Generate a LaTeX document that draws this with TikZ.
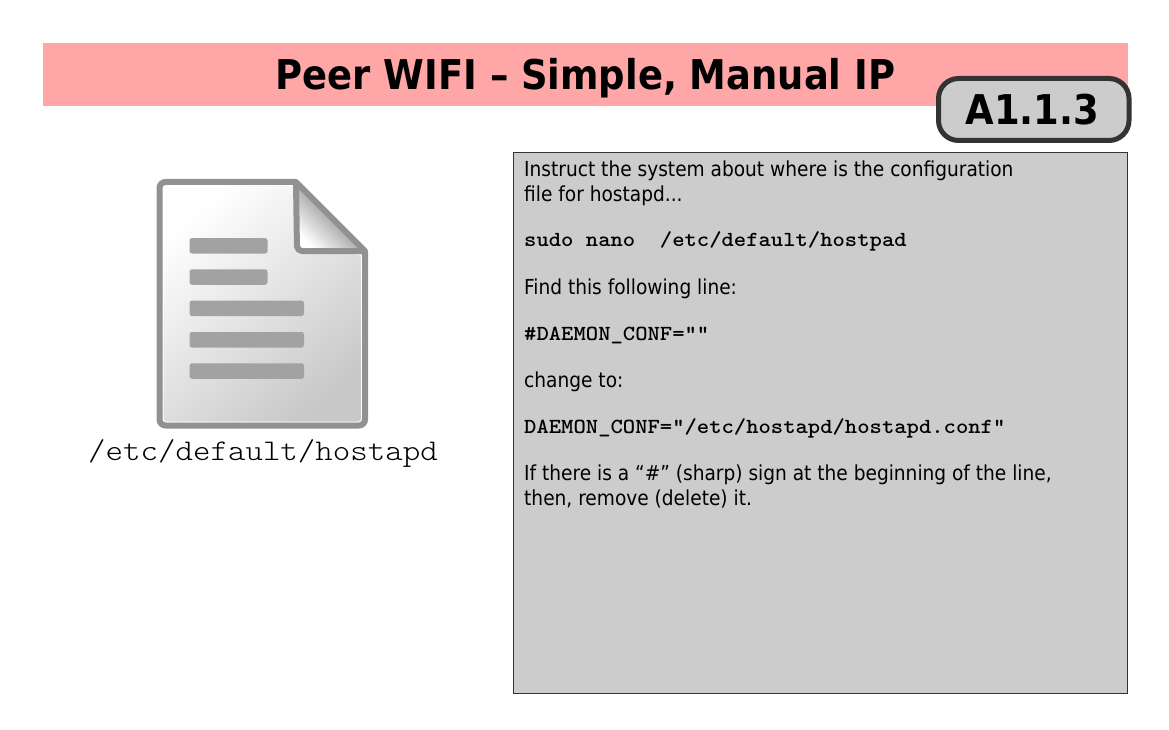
\documentclass[tikz,border=0pt]{standalone}
\usepackage{fontspec}
\usepackage{xcolor}
\usetikzlibrary{math}
\setmainfont{DejaVu Sans Condensed}

\definecolor{titlepink}{HTML}{FFA6A6}
\definecolor{panelgray}{HTML}{CCCCCC}
\definecolor{badgeline}{HTML}{333333}
\definecolor{iconline}{HTML}{919191}
\definecolor{iconbar}{HTML}{A2A2A2}
\definecolor{iconshade}{HTML}{C8C8C8}

\newcommand{\boldmono}{\ttfamily\bfseries\fontsize{21.5}{26}\selectfont}
\tikzset{
  bodyline/.style={anchor=base west, inner sep=0pt, font=\fontsize{20.65}{24}\selectfont},
  codeline/.style={anchor=base west, inner sep=0pt, xscale=1.093, font=\boldmono},
  docbar/.style={fill=iconbar, rounded corners=2.5},
  docline/.style={iconline, line width=6, line join=round}
}

\begin{document}
\begin{tikzpicture}[x=1pt, y=-1pt]

\tikzmath{
\docl = 159.5;
\docr = 365;
\doct = 182;
\docb = 425.5;
\foldx = 296;
\foldy = 251;
\barshort = 267.5;
\barlong = 304;
}

\useasboundingbox (0,0) rectangle (1169,730);

% title bar
\fill[titlepink] (43,43) rectangle (1128,106);
\node[inner sep=0pt, font=\bfseries\fontsize{41}{48}\selectfont] (title) at (585.5,78) {Peer WIFI -- Simple, Manual IP};

% badge
\draw[badgeline, line width=5, fill=panelgray, rounded corners=20] (938.5,78.5) rectangle (1129,140.5);
\node[inner sep=0pt, font=\bfseries\fontsize{41}{48}\selectfont] (badge) at (1032.5,109.5) {A1.1.3};

% file icon
\shade[top color=white, bottom color=iconshade, shading angle=40]
  (\docl,\doct) -- (\foldx,\doct) -- (\docr,\foldy) -- (\docr,\docb) -- (\docl,\docb) -- cycle;
\draw[white, line width=1, rounded corners=3] (\docl+3.5,\doct+3.5) -- (\foldx-1,\doct+3.5) -- (\foldx-1,\foldy) -- (\docr-3.5,\foldy+3) -- (\docr-3.5,\docb-3.5) -- (\docl+3.5,\docb-3.5) -- cycle;
\shade[top color=iconline!60!black, bottom color=white, shading angle=-45]
  (\foldx,\doct) -- (\docr,\foldy) -- (\foldx,\foldy) -- cycle;
\draw[docline, rounded corners=5] (\foldx,\doct) -- (\foldx+1,\foldy) -- (\docr,\foldy);
\draw[docline, rounded corners=6]
  (\docl,300) -- (\docl,\doct) [sharp corners] -- (\foldx,\doct) -- (\docr,\foldy) [rounded corners=6] -- (\docr,\docb) -- (\docl,\docb) -- cycle;

\foreach \y/\x in {238/\barshort, 269.3/\barshort, 300.6/\barlong, 332/\barlong, 363.3/\barlong}
    \fill[docbar] (189.5,\y) rectangle (\x,\y+15.5);

\node[inner sep=0pt, anchor=base, xscale=1.11, font=\ttfamily\fontseries{l}\fontsize{30}{38}\selectfont] (path) at (263,460) {/etc/default/hostapd};

% text panel
\draw[black!80, line width=0.8, fill=panelgray] (513.5,152.5) rectangle (1127.5,693);

\node[bodyline] (intro) at (524,176.5) {Instruct the system about where is the configuration};
\node[bodyline] (introb) at (524,201) {file for hostapd...};
\node[codeline] (sudo) at (524,246) {sudo nano\ \ /etc/default/hostpad};
\node[bodyline] (find) at (524,294) {Find this following line:};
\node[codeline] (old) at (524,340) {\#DAEMON\_CONF="\char"201D};
\node[bodyline] (change) at (524,387) {change to:};
\node[codeline] (new) at (524,433) {DAEMON\_CONF="/etc/hostapd/hostapd.conf"};
\node[bodyline] (sharp) at (524,480) {If there is a “\#” (sharp) sign at the beginning of the line,};
\node[bodyline] (sharpb) at (524,505) {then, remove (delete) it.};

\end{tikzpicture}
\end{document}
